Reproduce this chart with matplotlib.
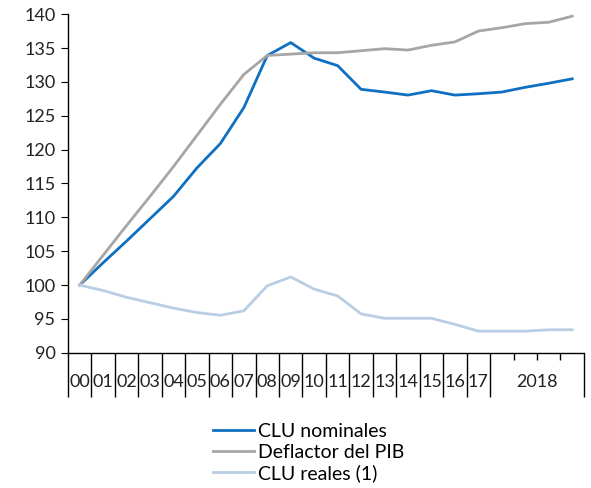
import numpy as np
import matplotlib
matplotlib.use("Agg")
import matplotlib.pyplot as plt

plt.rcParams['font.family'] = ['Lato', 'DejaVu Sans']

years = list(range(2000, 2022))
x_labels = ['00', '01', '02', '03', '04', '05', '06', '07', '08', '09', '10',
            '11', '12', '13', '14', '15', '16', '17']
last_group_label = '2018'

clu_nominales = [100, 103.3, 106.5, 109.8, 113.1, 117.3, 120.9, 126.2, 133.9, 135.8,
                 133.5, 132.4, 128.9, 128.5, 128.05, 128.7, 128.05, 128.25, 128.5,
                 129.2, 129.8, 130.45]
deflactor_pib = [100, 104.4, 108.8, 113.1, 117.5, 122.1, 126.7, 131.1, 133.9, 134.1,
                 134.3, 134.3, 134.6, 134.9, 134.7, 135.4, 135.9, 137.5, 138.0,
                 138.6, 138.8, 139.7]
clu_reales = [100, 99.2, 98.2, 97.4, 96.6, 95.95, 95.55, 96.2, 99.9, 101.2,
              99.4, 98.4, 95.75, 95.1, 95.1, 95.1, 94.2, 93.2, 93.2, 93.2, 93.4, 93.4]

fig = plt.figure(figsize=(5.91, 4.88), dpi=100)
ax = fig.add_axes([0.115, 0.277, 0.873, 0.694])

x = np.arange(len(years))
ax.plot(x, clu_nominales, color='#0F6FC0', lw=2.0, label='CLU nominales')
ax.plot(x, deflactor_pib, color='#A6A6A6', lw=2.0, label='Deflactor del PIB')
ax.plot(x, clu_reales, color='#B9CDE5', lw=2.0, label='CLU reales (1)')

ax.set_ylim(90, 140)
ax.set_yticks(np.arange(90, 141, 5))
ax.set_xlim(-0.5, len(years) - 0.5)

for s in ['top', 'right']:
    ax.spines[s].set_visible(False)
for s in ['left', 'bottom']:
    ax.spines[s].set_color('black')
    ax.spines[s].set_linewidth(1.0)

ax.tick_params(axis='y', labelsize=13, length=5, direction='out', pad=4,
               colors='black', labelcolor='#222222')

# category boundaries: long separators for single years, short ticks inside the last group
bounds = np.arange(len(years) + 1) - 0.5
long_b = list(bounds[:19]) + [bounds[-1]]
short_b = list(bounds[19:-1])
ax.set_xticks(long_b)
ax.set_xticks(short_b, minor=True)
ax.set_xticklabels([])
ax.tick_params(axis='x', which='major', length=32, width=1.0, color='black')
ax.tick_params(axis='x', which='minor', length=5, width=1.0, color='black')

tr = ax.get_xaxis_transform()
for i, lab in enumerate(x_labels):
    ax.text(i, -0.087, lab, transform=tr, ha='center', va='center',
            fontsize=13, color='#222222')
ax.text(19.5, -0.087, last_group_label, transform=tr, ha='center', va='center',
        fontsize=13, color='#222222')

fig.legend(*ax.get_legend_handles_labels(), loc='upper left',
           bbox_to_anchor=(213 / 591, 1 - 423 / 488), bbox_transform=fig.transFigure,
           frameon=False, fontsize=14, handlelength=2.1, handletextpad=0.2,
           labelspacing=0.18, borderpad=0, borderaxespad=0)

fig.savefig('out.png', dpi=100)
